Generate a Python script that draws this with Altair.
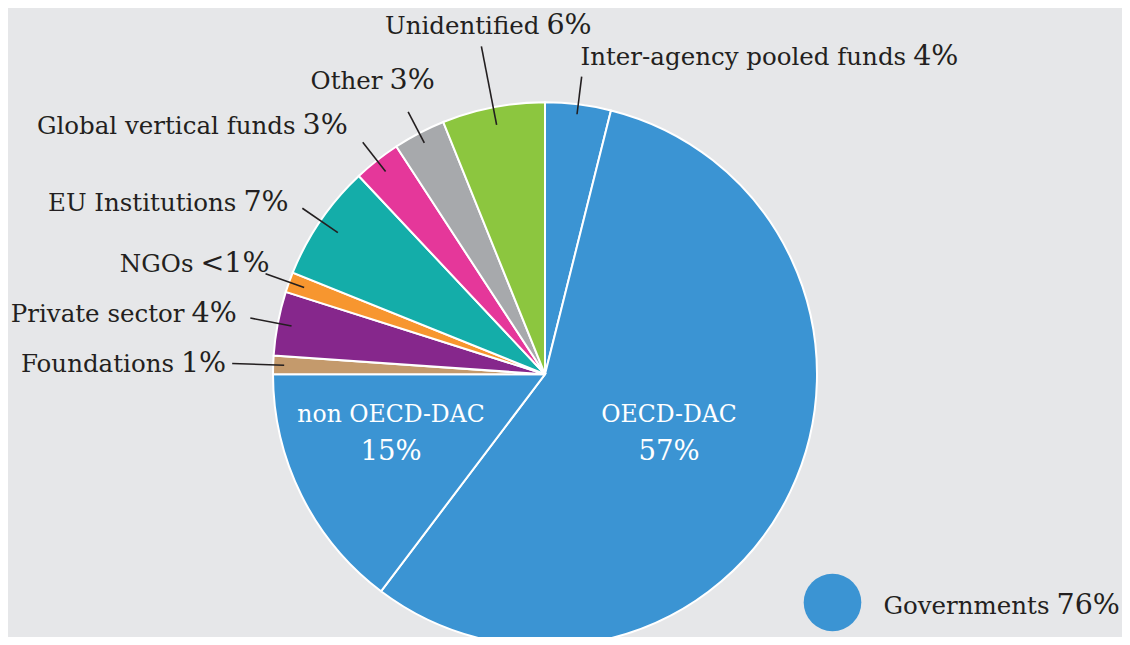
import math
import pandas as pd
import altair as alt

# ---------------- data ----------------
categories = ["Inter-agency pooled funds", "OECD-DAC", "non OECD-DAC", "Foundations",
              "Private sector", "NGOs", "EU Institutions", "Global vertical funds",
              "Other", "Unidentified"]
shares = [3.9, 56.4, 14.7, 1.1, 3.8, 1.2, 6.9, 2.8, 3.1, 6.1]
pct_labels = ["4%", "57%", "15%", "1%", "4%", "<1%", "7%", "3%", "3%", "6%"]
slice_colors = ["#3B94D3", "#3B94D3", "#3B94D3", "#C49A6C", "#86278C", "#F7962F",
                "#14ADA9", "#E5379A", "#A7A9AC", "#8CC63F"]

group_names = ["Governments"]
group_pcts = ["76%"]
group_colors = ["#3B94D3"]

# ---------------- layout ----------------
W, H = 1114, 629
CX, CY, R = 537.0, 366.3, 272
FONT = "DejaVu Serif"
INK = "#231F20"
BG = "#E6E7E9"
NAME_SIZE = 24.5
PCT_SIZE = 28.5
GAP = 3.5

# callouts: (line inner radius, line outer radius, label dx, label dy) relative to line end
callout = {
    "Inter-agency pooled funds": (262, 300, 328, -11.5),
    "Unidentified": (254, 334, 61.6, -12.9),
    "Other": (261, 296, -22.1, -23.3),
    "Global vertical funds": (258, 295, -63.7, -7.9),
    "EU Institutions": (251, 294, -62.4, 2.7),
    "NGOs": (256, 297, -68.6, -1.2),
    "Private sector": (258, 300, -62.3, 3.9),
    "Foundations": (261, 313, -54.7, 8.5),
}
# inside labels: (anchor radius, dx, dy of name baseline)
inside = {
    "OECD-DAC": (150, -11.3, -16.7),
    "non OECD-DAC": (150, -19.7, -18.8),
}
INSIDE_LINE = 38
LEGEND_X, LEGEND_Y, LEGEND_SIZE = 824.5, 594.5, 3318
LEGEND_JX, LEGEND_BASE = 1045, 606

# ---------------- derived geometry ----------------
total = sum(shares)
rows, lines, outs, ins = [], [], [], []
cum = 0.0
for i, (c, s, p, col) in enumerate(zip(categories, shares, pct_labels, slice_colors)):
    a0 = cum / total * 2 * math.pi
    cum += s
    a1 = cum / total * 2 * math.pi
    mid = (a0 + a1) / 2
    rows.append({"idx": i, "category": c, "share": s})

    def pt(r):
        return CX + r * math.sin(mid), CY - r * math.cos(mid)

    if c in callout:
        r_in, r_out, dx, dy = callout[c]
        x1, y1 = pt(r_in)
        x2, y2 = pt(r_out)
        lines.append({"x": x1, "y": y1, "x2": x2, "y2": y2})
        jx, jy = x2 + dx, y2 + dy
        outs.append({"name": c, "pct": p, "nx": jx - GAP, "px": jx + GAP, "y": jy})
    elif c in inside:
        r_a, dx, dy = inside[c]
        ax, ay = pt(r_a)
        ins.append({"name": c, "pct": p, "x": ax + dx, "ny": ay + dy, "py": ay + dy + INSIDE_LINE})

for n, p in zip(group_names, group_pcts):
    outs.append({"name": n, "pct": p, "nx": LEGEND_JX - GAP, "px": LEGEND_JX + GAP, "y": LEGEND_BASE})

df = pd.DataFrame(rows)
df_lines = pd.DataFrame(lines)
df_out = pd.DataFrame(outs)
df_in = pd.DataFrame(ins)
df_leg = pd.DataFrame({"group": group_names, "x": [LEGEND_X], "y": [LEGEND_Y]})

ident = dict(scale=None, axis=None)

pie = alt.Chart(df).mark_arc(outerRadius=R, stroke="white", strokeWidth=2).encode(
    theta=alt.Theta("share:Q", stack=True),
    order=alt.Order("idx:Q"),
    color=alt.Color("category:N", scale=alt.Scale(domain=categories, range=slice_colors), legend=None),
    x=alt.value(CX),
    y=alt.value(CY),
)

leader = alt.Chart(df_lines).mark_rule(color=INK, strokeWidth=1.6).encode(
    x=alt.X("x:Q", **ident), y=alt.Y("y:Q", **ident),
    x2="x2:Q", y2="y2:Q",
)

name_out = alt.Chart(df_out).mark_text(
    align="right", baseline="alphabetic", font=FONT, fontSize=NAME_SIZE, color=INK
).encode(x=alt.X("nx:Q", **ident), y=alt.Y("y:Q", **ident), text="name:N")

pct_out = alt.Chart(df_out).mark_text(
    align="left", baseline="alphabetic", font=FONT, fontSize=PCT_SIZE, color=INK
).encode(x=alt.X("px:Q", **ident), y=alt.Y("y:Q", **ident), text="pct:N")

name_in = alt.Chart(df_in).mark_text(
    align="center", baseline="alphabetic", font=FONT, fontSize=NAME_SIZE - 1, color="white"
).encode(x=alt.X("x:Q", **ident), y=alt.Y("ny:Q", **ident), text="name:N")

pct_in = alt.Chart(df_in).mark_text(
    align="center", baseline="alphabetic", font=FONT, fontSize=PCT_SIZE - 1, color="white"
).encode(x=alt.X("x:Q", **ident), y=alt.Y("py:Q", **ident), text="pct:N")

legend_dot = alt.Chart(df_leg).mark_circle(size=LEGEND_SIZE, opacity=1).encode(
    x=alt.X("x:Q", **ident), y=alt.Y("y:Q", **ident),
    color=alt.Color("group:N", scale=alt.Scale(domain=group_names, range=group_colors), legend=None),
)

chart = alt.layer(pie, leader, name_out, pct_out, name_in, pct_in, legend_dot).resolve_scale(
    color="independent"
).properties(
    width=W, height=H, background=BG, padding=0,
    autosize=alt.AutoSizeParams(type="none"),
).configure_view(stroke=None)

chart.save("out.html", embed_options={"renderer": "svg", "actions": False})
